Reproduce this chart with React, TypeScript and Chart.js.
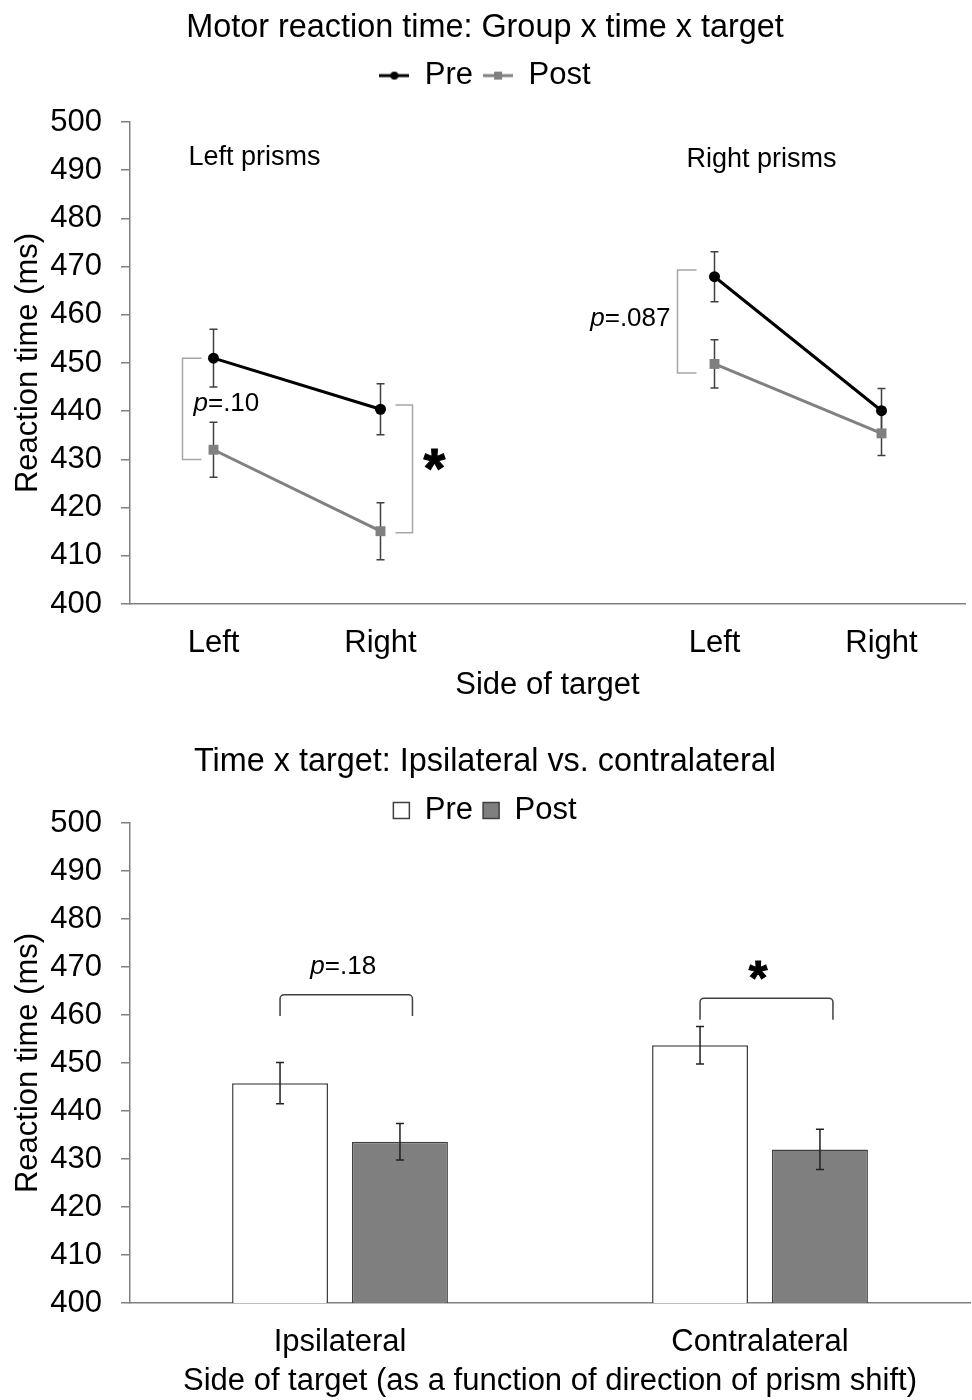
import React, { useEffect, useRef } from 'react';
import { Chart, registerables } from 'chart.js';

Chart.register(...registerables);

// ---------- Data (top: line chart) ----------
const lineCategories = ['Left', 'Right', '', 'Left', 'Right'];
const preLine = [451, 440.4, null, 467.9, 440.1];
const postLine = [432, 415.1, null, 449.8, 435.4];
const preLineErr = [6, 5.3, null, 5.2, 4.6];
const postLineErr = [5.7, 5.9, null, 5, 4.6];
const groupLabels = ['Left prisms', 'Right prisms'];
const lineStats = ['=.10', '*', '=.087'];

// ---------- Data (bottom: bar chart) ----------
const barCategories = ['Ipsilateral', 'Contralateral'];
const preBar = [445.8, 453.7];
const postBar = [433.6, 432.0];
const preBarErr = [4.3, 3.9];
const postBarErr = [3.8, 4.2];
const barStats = ['=.18', '*'];

const yMin = 400;
const yMax = 500;
const yStep = 10;

const FONT = '"Liberation Sans", Arial, Helvetica, sans-serif';

Chart.defaults.font.family = FONT;
Chart.defaults.color = '#000';

function pText(ctx: CanvasRenderingContext2D, rest: string, x: number, y: number, align: string, size: number) {
  ctx.save();
  ctx.textBaseline = 'middle';
  ctx.textAlign = 'left';
  ctx.fillStyle = '#000';
  ctx.font = `italic ${size}px ${FONT}`;
  const wp = ctx.measureText('p').width;
  ctx.font = `${size}px ${FONT}`;
  const wr = ctx.measureText(rest).width;
  const total = wp + wr;
  const left = align === 'right' ? x - total : align === 'center' ? x - total / 2 : x;
  ctx.font = `italic ${size}px ${FONT}`;
  ctx.fillText('p', left, y);
  ctx.font = `${size}px ${FONT}`;
  ctx.fillText(rest, left + wp, y);
  ctx.restore();
}

function star(ctx: CanvasRenderingContext2D, s: string, cx: number, cy: number, size: number) {
  ctx.save();
  ctx.font = `bold ${size}px ${FONT}`;
  ctx.fillStyle = '#000';
  ctx.strokeStyle = '#000';
  ctx.lineWidth = 1;
  ctx.textAlign = 'center';
  ctx.textBaseline = 'top';
  // asterisk glyph sits in the upper part of the em box
  ctx.fillText(s, cx, cy - size * 0.33);
  ctx.strokeText(s, cx, cy - size * 0.33);
  ctx.restore();
}

function sideBracket(ctx: CanvasRenderingContext2D, xOuter: number, xInner: number, yTop: number, yBot: number, color: string) {
  ctx.save();
  ctx.strokeStyle = color;
  ctx.lineWidth = 1.5;
  ctx.beginPath();
  ctx.moveTo(xInner, yTop);
  ctx.lineTo(xOuter, yTop);
  ctx.lineTo(xOuter, yBot);
  ctx.lineTo(xInner, yBot);
  ctx.stroke();
  ctx.restore();
}

function topBracket(ctx: CanvasRenderingContext2D, xl: number, xr: number, yTop: number, yLeg: number, color: string) {
  ctx.save();
  ctx.strokeStyle = color;
  ctx.lineWidth = 1.5;
  ctx.beginPath();
  ctx.moveTo(xl, yLeg);
  ctx.arcTo(xl, yTop, xl + 6, yTop, 4);
  ctx.arcTo(xr, yTop, xr, yLeg, 4);
  ctx.lineTo(xr, yLeg);
  ctx.stroke();
  ctx.restore();
}

const errorBarPlugin = {
  id: 'errorBars',
  draw(chart: any, opts: any) {
    const { ctx } = chart;
    const ys = chart.scales.y;
    chart.data.datasets.forEach((ds: any, i: number) => {
      const meta = chart.getDatasetMeta(i);
      meta.data.forEach((el: any, j: number) => {
        const v = ds.data[j];
        const e = ds.errors ? ds.errors[j] : null;
        if (v == null || e == null) return;
        const x = el.x;
        const t = ys.getPixelForValue(v + e);
        const b = ys.getPixelForValue(v - e);
        ctx.save();
        ctx.strokeStyle = opts.color;
        ctx.lineWidth = opts.width;
        ctx.beginPath();
        ctx.moveTo(x, t);
        ctx.lineTo(x, b);
        ctx.moveTo(x - opts.cap, t);
        ctx.lineTo(x + opts.cap, t);
        ctx.moveTo(x - opts.cap, b);
        ctx.lineTo(x + opts.cap, b);
        ctx.stroke();
        ctx.restore();
      });
    });
  },
  beforeDatasetsDraw(chart: any, _a: any, opts: any) {
    if (opts.under) errorBarPlugin.draw(chart, opts);
  },
  afterDatasetsDraw(chart: any, _a: any, opts: any) {
    if (!opts.under) errorBarPlugin.draw(chart, opts);
  },
};

const lineAnnotations = {
  id: 'lineAnnotations',
  afterDraw(chart: any) {
    const { ctx } = chart;
    const xs = chart.scales.x;
    const ys = chart.scales.y;
    const px = (i: number) => xs.getPixelForValue(i);
    const py = (v: number) => ys.getPixelForValue(v);
    ctx.save();
    ctx.fillStyle = '#000';
    ctx.font = `27px ${FONT}`;
    ctx.textAlign = 'left';
    ctx.textBaseline = 'middle';
    ctx.fillText(groupLabels[0], px(0) - 25, py(492.6));
    ctx.fillText(groupLabels[1], px(3) - 28, py(492.3));
    ctx.restore();

    const gray = '#a6a6a6';
    sideBracket(ctx, px(0) - 31, px(0) - 12, py(451), py(430), gray);
    pText(ctx, lineStats[0], px(0) - 20, py(441.6), 'left', 26);

    sideBracket(ctx, px(1) + 32, px(1) + 15, py(441.3), py(414.8), gray);
    star(ctx, lineStats[1], px(1) + 54, py(429.4), 56);

    sideBracket(ctx, px(3) - 37, px(3) - 18, py(469.3), py(447.9), gray);
    pText(ctx, lineStats[2], px(3) - 44, py(459.1), 'right', 26);
  },
};

const barAnnotations = {
  id: 'barAnnotations',
  afterDraw(chart: any) {
    const { ctx } = chart;
    const ys = chart.scales.y;
    const py = (v: number) => ys.getPixelForValue(v);
    const pre = chart.getDatasetMeta(0).data;
    const post = chart.getDatasetMeta(1).data;
    const dark = '#404040';

    const l0 = pre[0].x;
    const r0 = post[0].x + 12.5;
    topBracket(ctx, l0, r0, py(464.2), py(459.8), dark);
    pText(ctx, barStats[0], (l0 + r0) / 2 - 3, py(470), 'center', 26);

    const l1 = pre[1].x;
    const r1 = post[1].x + 13;
    topBracket(ctx, l1, r1, py(463.5), py(459), dark);
    star(ctx, barStats[1], l1 + 58, py(468.75), 48);
  },
};

function legendMarker(color: string, shape: string) {
  const c = document.createElement('canvas');
  c.width = 30;
  c.height = 12;
  const g = c.getContext('2d') as CanvasRenderingContext2D;
  g.strokeStyle = color;
  g.lineWidth = 3;
  g.beginPath();
  g.moveTo(0, 6);
  g.lineTo(30, 6);
  g.stroke();
  g.fillStyle = color;
  if (shape === 'circle') {
    g.beginPath();
    g.arc(15, 6, 4, 0, Math.PI * 2);
    g.fill();
  } else {
    g.fillRect(11, 2, 8, 8);
  }
  return c;
}

function yScale(fit: number) {
  return {
    min: yMin,
    max: yMax,
    ticks: { stepSize: yStep, font: { size: 31 }, color: '#000', padding: 19 },
    grid: { drawOnChartArea: false, drawTicks: true, tickLength: 9, color: '#808080', lineWidth: 1.5 },
    border: { display: true, color: '#808080', width: 1.5 },
    title: { display: true, text: 'Reaction time (ms)', font: { size: 31 }, color: '#000', padding: { top: 10, bottom: 0 } },
    afterFit(s: any) {
      s.width = fit;
    },
  };
}

export default function App() {
  const topRef = useRef<HTMLCanvasElement | null>(null);
  const botRef = useRef<HTMLCanvasElement | null>(null);

  useEffect(() => {
    const markers = [legendMarker('#000', 'circle'), legendMarker('#808080', 'rect')];
    const top = new Chart(topRef.current as HTMLCanvasElement, {
      type: 'line',
      data: {
        labels: lineCategories,
        datasets: [
          {
            label: 'Pre',
            data: preLine,
            errors: preLineErr,
            xAxisID: 'x',
            yAxisID: 'y',
            borderColor: '#000',
            backgroundColor: '#000',
            borderWidth: 3,
            pointStyle: 'circle',
            pointRadius: 5.5,
            pointBorderWidth: 0,
            spanGaps: false,
          } as any,
          {
            label: 'Post',
            data: postLine,
            errors: postLineErr,
            xAxisID: 'x',
            yAxisID: 'y',
            borderColor: '#808080',
            backgroundColor: '#808080',
            borderWidth: 3,
            pointStyle: 'rect',
            pointRadius: 7,
            pointBorderWidth: 0,
            spanGaps: false,
          } as any,
        ],
      },
      options: {
        responsive: false,
        animation: false,
        events: [],
        layout: { padding: { left: 0, right: 2, top: 0, bottom: 0 } },
        plugins: {
          title: {
            display: true,
            text: 'Motor reaction time: Group x time x target',
            font: { size: 32.4, weight: 'normal' },
            color: '#000',
            padding: { top: 8.2, bottom: 3 },
          },
          legend: {
            display: true,
            labels: {
              usePointStyle: true,
              pointStyleWidth: 30,
              font: { size: 31 },
              color: '#000',
              padding: 10,
              generateLabels(chart: any) {
                const items = (Chart.defaults.plugins.legend.labels as any).generateLabels(chart);
                return items.map((it: any, i: number) => ({ ...it, pointStyle: markers[i] }));
              },
            },
          },
          tooltip: { enabled: false },
          errorBars: { color: '#404040', width: 1.5, cap: 4, under: true },
        } as any,
        scales: {
          x: {
            type: 'category',
            offset: true,
            grid: { display: false, drawTicks: false },
            border: { display: true, color: '#808080', width: 1.5 },
            ticks: { font: { size: 31 }, color: '#000', padding: 21 },
            title: { display: true, text: 'Side of target', font: { size: 31 }, color: '#000', padding: { top: 0, bottom: 6.4 } },
            afterFit(s: any) {
              s.height = 106;
            },
          },
          y: yScale(130),
          spacer: {
            type: 'linear',
            position: 'top',
            display: true,
            grid: { display: false, drawTicks: false },
            border: { display: false },
            ticks: { display: false },
            afterFit(s: any) {
              s.height = 20.9;
            },
          },
        } as any,
      },
      plugins: [errorBarPlugin, lineAnnotations],
    } as any);

    const bottom = new Chart(botRef.current as HTMLCanvasElement, {
      type: 'bar',
      data: {
        labels: barCategories,
        datasets: [
          {
            label: 'Pre',
            data: preBar,
            errors: preBarErr,
            backgroundColor: '#ffffff',
            borderColor: '#404040',
            borderWidth: 1.5,
            categoryPercentage: 0.571,
            barPercentage: 0.8,
          } as any,
          {
            label: 'Post',
            data: postBar,
            errors: postBarErr,
            backgroundColor: '#7f7f7f',
            borderColor: '#404040',
            borderWidth: 1.5,
            categoryPercentage: 0.571,
            barPercentage: 0.8,
          } as any,
        ],
      },
      options: {
        responsive: false,
        animation: false,
        events: [],
        layout: { padding: { left: 0, right: 2, top: 0, bottom: 0 } },
        plugins: {
          title: {
            display: true,
            text: 'Time x target: Ipsilateral vs. contralateral',
            font: { size: 32.4, weight: 'normal' },
            color: '#000',
            padding: { top: 32.2, bottom: 4 },
          },
          legend: {
            display: true,
            maxHeight: 37.9,
            labels: {
              boxWidth: 16,
              boxHeight: 16,
              font: { size: 31 },
              color: '#000',
              padding: 10,
            },
          },
          tooltip: { enabled: false },
          errorBars: { color: '#202020', width: 1.5, cap: 4, under: false },
        } as any,
        scales: {
          x: {
            type: 'category',
            grid: { display: false, drawTicks: false },
            border: { display: true, color: '#808080', width: 1.5 },
            ticks: { font: { size: 31 }, color: '#000', padding: 21 },
            title: {
              display: true,
              text: 'Side of target (as a function of direction of prism shift)',
              font: { size: 31 },
              color: '#000',
              padding: { top: 0, bottom: 0 },
            },
            afterFit(s: any) {
              s.height = 97;
            },
          },
          y: yScale(130),
        } as any,
      },
      plugins: [errorBarPlugin, barAnnotations],
    } as any);

    return () => {
      top.destroy();
      bottom.destroy();
    };
  }, []);

  return (
    <div style={{ position: 'absolute', left: 0, top: 0, width: 972, background: '#fff' }}>
      <canvas ref={topRef} width={972} height={710} style={{ display: 'block', width: 972, height: 710 }} />
      <canvas ref={botRef} width={972} height={690} style={{ display: 'block', width: 972, height: 690 }} />
    </div>
  );
}
